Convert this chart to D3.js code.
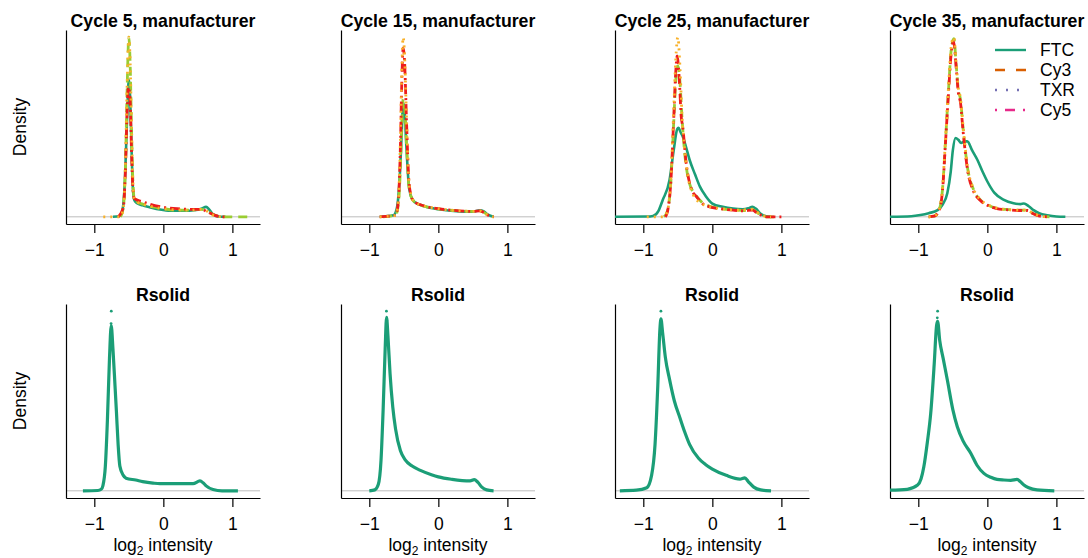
<!DOCTYPE html>
<html>
<head>
<meta charset="utf-8">
<script src="https://cdn.jsdelivr.net/npm/d3@7"></script>
<style>
body { margin: 0; background: #fff; }
text { font-family: "Liberation Sans", Arial, Helvetica, sans-serif; }
</style>
</head>
<body>
<script>
// panel titles and series names
const topTitles = ["Cycle 5, manufacturer", "Cycle 15, manufacturer", "Cycle 25, manufacturer", "Cycle 35, manufacturer"];
const bottomTitle = "Rsolid";
const seriesNames = ["FTC", "Cy3", "TXR", "Cy5"];
const xTicks = [-1, 0, 1];

// density curves, [log2 intensity, density]
const c5FTC = [[-0.73,0],[-0.64,0.02],[-0.59,0.25],[-0.555,1.3],[-0.525,3.3],[-0.5,4.55],[-0.48,3.9],[-0.46,2.2],[-0.44,0.9],[-0.42,0.55],[-0.38,0.45],[-0.3,0.38],[-0.2,0.32],[-0.05,0.24],[0.1,0.2],[0.3,0.2],[0.45,0.22],[0.55,0.27],[0.62,0.33],[0.66,0.25],[0.72,0.08],[0.8,0.01],[0.9,0]];
const c5Cy3 = [[-0.62,0],[-0.58,0.3],[-0.55,1.6],[-0.525,4.2],[-0.5,5.96],[-0.48,5.0],[-0.46,2.8],[-0.44,1.1],[-0.42,0.6],[-0.38,0.5],[-0.3,0.42],[-0.15,0.33],[0,0.27],[0.2,0.22],[0.4,0.22],[0.55,0.25],[0.62,0.22],[0.7,0.1],[0.8,0.02],[0.9,0],[1.22,0]];
const c5Cy5 = [[-0.65,0],[-0.58,0.3],[-0.55,1.5],[-0.525,3.5],[-0.505,4.3],[-0.48,3.8],[-0.46,2.1],[-0.44,0.9],[-0.42,0.6],[-0.3,0.5],[-0.2,0.42],[0,0.32],[0.2,0.27],[0.4,0.25],[0.55,0.25],[0.65,0.15],[0.75,0.05],[0.85,0],[0.92,0]];
const c5TXR = [[-0.87,0],[-0.62,0],[-0.58,0.3],[-0.55,1.7],[-0.525,4.3],[-0.5,5.96],[-0.48,5.1],[-0.46,2.9],[-0.44,1.1],[-0.42,0.6],[-0.38,0.5],[-0.3,0.42],[-0.15,0.33],[0,0.27],[0.2,0.23],[0.4,0.22],[0.55,0.25],[0.62,0.2],[0.7,0.08],[0.8,0.01],[0.9,0]];

const c15FTC = [[-0.85,0],[-0.65,0.05],[-0.6,0.3],[-0.56,1.3],[-0.53,2.8],[-0.51,3.8],[-0.49,3.5],[-0.46,2.2],[-0.43,1.1],[-0.4,0.7],[-0.35,0.5],[-0.2,0.35],[0,0.25],[0.3,0.18],[0.5,0.17],[0.6,0.22],[0.66,0.18],[0.72,0.07],[0.8,0]];
const c15Cy3 = [[-0.8,0],[-0.62,0.05],[-0.58,0.4],[-0.55,1.6],[-0.53,3.0],[-0.51,3.9],[-0.49,3.7],[-0.46,2.4],[-0.43,1.1],[-0.4,0.7],[-0.35,0.5],[-0.2,0.35],[0,0.26],[0.3,0.2],[0.5,0.18],[0.6,0.2],[0.66,0.15],[0.72,0.05],[0.8,0]];
const c15Cy5 = [[-0.85,0],[-0.62,0.05],[-0.58,0.5],[-0.55,2.3],[-0.53,4.4],[-0.51,5.6],[-0.49,5.2],[-0.46,3.1],[-0.43,1.3],[-0.4,0.75],[-0.35,0.5],[-0.2,0.36],[0,0.27],[0.3,0.2],[0.5,0.18],[0.6,0.2],[0.66,0.14],[0.72,0.05],[0.8,0]];
const c15TXR = [[-0.85,0],[-0.62,0.05],[-0.58,0.5],[-0.55,2.5],[-0.53,4.8],[-0.51,5.96],[-0.49,5.4],[-0.46,3.2],[-0.43,1.3],[-0.4,0.75],[-0.35,0.5],[-0.2,0.36],[0,0.27],[0.3,0.2],[0.5,0.18],[0.6,0.2],[0.66,0.14],[0.72,0.05],[0.8,0]];

const c25FTC = [[-1.41,0],[-0.95,0.01],[-0.86,0.03],[-0.78,0.2],[-0.72,0.55],[-0.62,1.22],[-0.56,2.2],[-0.51,2.9],[-0.49,2.95],[-0.46,2.8],[-0.43,2.67],[-0.38,2.3],[-0.33,1.89],[-0.25,1.4],[-0.18,1.0],[-0.1,0.7],[0,0.44],[0.15,0.33],[0.3,0.27],[0.44,0.25],[0.52,0.28],[0.58,0.33],[0.63,0.27],[0.7,0.1],[0.78,0.02],[0.85,0]];
const c25Cy3 = [[-0.7,0],[-0.65,0.2],[-0.6,1.2],[-0.56,3.1],[-0.53,4.5],[-0.5,5.0],[-0.47,4.5],[-0.44,3.3],[-0.4,2.1],[-0.33,1.1],[-0.25,0.75],[-0.15,0.48],[-0.04,0.35],[0.1,0.28],[0.3,0.23],[0.45,0.21],[0.58,0.24],[0.65,0.14],[0.72,0.04],[0.8,0],[0.9,0]];
const c25Cy5 = [[-0.68,0],[-0.65,0.17],[-0.6,1.2],[-0.56,3.2],[-0.53,4.8],[-0.51,5.33],[-0.48,4.6],[-0.45,3.3],[-0.43,3.0],[-0.38,1.8],[-0.3,0.9],[-0.23,0.67],[-0.15,0.45],[-0.04,0.33],[0.1,0.27],[0.3,0.22],[0.45,0.2],[0.58,0.22],[0.65,0.12],[0.72,0.04],[0.8,0],[1.0,0]];
const c25TXR = [[-0.95,0],[-0.7,0],[-0.65,0.2],[-0.6,1.3],[-0.56,3.5],[-0.53,5.2],[-0.5,5.95],[-0.47,5.0],[-0.44,3.4],[-0.4,2.2],[-0.35,1.3],[-0.28,0.75],[-0.2,0.5],[-0.1,0.38],[0,0.32],[0.2,0.25],[0.4,0.22],[0.58,0.25],[0.65,0.15],[0.75,0.03],[0.85,0]];

const c35FTC = [[-1.41,0],[-1.1,0.02],[-0.97,0.06],[-0.85,0.12],[-0.72,0.22],[-0.65,0.4],[-0.58,0.78],[-0.53,1.5],[-0.5,2.2],[-0.46,2.61],[-0.42,2.55],[-0.38,2.45],[-0.33,2.5],[-0.29,2.5],[-0.22,2.2],[-0.145,1.89],[-0.07,1.5],[0,1.17],[0.1,0.8],[0.24,0.56],[0.38,0.45],[0.48,0.42],[0.53,0.44],[0.6,0.35],[0.67,0.22],[0.75,0.12],[0.87,0.05],[1.0,0.01],[1.13,0]];
const c35Cy3 = [[-0.85,0],[-0.77,0.02],[-0.7,0.22],[-0.65,0.9],[-0.605,2.55],[-0.56,4.3],[-0.52,5.6],[-0.485,5.9],[-0.45,5.0],[-0.42,4.2],[-0.39,3.9],[-0.35,2.9],[-0.29,1.67],[-0.2,0.9],[-0.1,0.56],[0,0.4],[0.14,0.28],[0.3,0.24],[0.45,0.22],[0.58,0.22],[0.65,0.13],[0.72,0.06],[0.8,0.01],[0.9,0]];
const c35Cy5 = [[-0.85,0],[-0.77,0.02],[-0.7,0.2],[-0.65,0.85],[-0.605,2.5],[-0.56,4.2],[-0.52,5.5],[-0.49,5.8],[-0.45,4.9],[-0.42,4.1],[-0.39,3.8],[-0.35,2.8],[-0.29,1.6],[-0.2,0.85],[-0.1,0.54],[0,0.38],[0.14,0.27],[0.3,0.23],[0.45,0.21],[0.58,0.21],[0.65,0.12],[0.72,0.05],[0.8,0.01],[0.9,0]];
const c35TXR = [[-0.85,0],[-0.77,0.02],[-0.7,0.24],[-0.65,0.95],[-0.605,2.6],[-0.56,4.4],[-0.52,5.7],[-0.485,5.95],[-0.45,5.05],[-0.42,4.25],[-0.39,3.95],[-0.35,2.95],[-0.29,1.7],[-0.2,0.92],[-0.1,0.57],[0,0.41],[0.14,0.29],[0.3,0.24],[0.45,0.22],[0.58,0.22],[0.65,0.13],[0.72,0.06],[0.8,0.01],[0.9,0]];

// Rsolid density lines and the stray points above the peaks
const rs5 = [[-1.165,0],[-0.95,0.01],[-0.9,0.05],[-0.875,0.17],[-0.84,0.8],[-0.81,2.3],[-0.78,4.3],[-0.755,5.35],[-0.73,4.6],[-0.7,3.4],[-0.68,2.58],[-0.655,1.5],[-0.63,0.8],[-0.58,0.5],[-0.54,0.41],[-0.4,0.35],[-0.3,0.3],[-0.15,0.25],[-0.05,0.23],[0.2,0.23],[0.43,0.23],[0.53,0.32],[0.58,0.25],[0.62,0.16],[0.72,0.04],[0.85,0],[1.08,0]];
const rs15 = [[-1.0,0],[-0.92,0.03],[-0.87,0.2],[-0.83,1.0],[-0.8,2.6],[-0.77,4.6],[-0.75,5.6],[-0.73,5.0],[-0.7,3.8],[-0.66,2.7],[-0.62,2.0],[-0.55,1.3],[-0.48,1.0],[-0.38,0.8],[-0.26,0.66],[-0.1,0.52],[0,0.45],[0.2,0.37],[0.46,0.32],[0.52,0.36],[0.57,0.28],[0.63,0.12],[0.7,0.03],[0.8,0]];
const rs25 = [[-1.34,0],[-1.1,0.02],[-0.95,0.1],[-0.88,0.5],[-0.83,1.5],[-0.79,3.4],[-0.76,5.2],[-0.745,5.55],[-0.72,5.1],[-0.68,4.3],[-0.62,3.6],[-0.55,2.9],[-0.47,2.36],[-0.4,1.9],[-0.33,1.5],[-0.2,1.05],[-0.1,0.85],[0,0.7],[0.2,0.5],[0.4,0.38],[0.47,0.42],[0.52,0.3],[0.6,0.12],[0.7,0.03],[0.85,0]];
const rs35 = [[-1.41,0.02],[-1.16,0.05],[-1.01,0.19],[-0.96,0.4],[-0.92,0.8],[-0.87,1.6],[-0.82,2.58],[-0.77,4.2],[-0.735,5.5],[-0.72,5.63],[-0.69,5.0],[-0.64,4.4],[-0.58,3.69],[-0.5,2.7],[-0.435,2.13],[-0.35,1.65],[-0.24,1.25],[-0.15,0.85],[-0.05,0.58],[0.05,0.45],[0.14,0.38],[0.24,0.36],[0.34,0.35],[0.43,0.38],[0.48,0.3],[0.53,0.19],[0.6,0.1],[0.72,0.03],[0.97,0]];
const rsDots = [[[-0.754,5.82],[-0.757,5.42]], [[-0.752,5.8],[-0.748,5.5]], [[-0.745,5.8]], [[-0.72,5.97],[-0.725,5.75]]];

const topData = [
    [c5FTC, c5Cy3, c5Cy5, c5TXR],
    [c15FTC, c15Cy3, c15Cy5, c15TXR],
    [c25FTC, c25Cy3, c25Cy5, c25TXR],
    [c35FTC, c35Cy3, c35Cy5, c35TXR]
];
const bottomData = [rs5, rs15, rs25, rs35];

// colours actually used for the curves vs. the legend
const curveColors = ["#1b9e77", "#9acd32", "#ee1c1c", "#f8b12a"];
const curveDash = [null, "9,6", "10,4,2,4", "2,5"];
const legendColors = ["#1b9e77", "#d95f02", "#7570b3", "#e7298a"];
const legendDash = [null, "10,11", "2,9", "2,8,10,8"];

const svgWidth = 1088, svgHeight = 558;
const panelLefts = [66, 341, 615, 890];
const panelTops = [30, 304];
const pw = 194, ph = 194;
const fs = 17.5;

const svg = d3.select("body").append("svg")
    .attr("width", svgWidth)
    .attr("height", svgHeight);

function drawPanel(col, row, seriesList, title) {
    const left = panelLefts[col], top = panelTops[row];
    const x = d3.scaleLinear().domain([-1.41, 1.40]).range([left, left + pw]);
    const maxY = d3.max(seriesList.flat(), d => d[1]);
    const y = d3.scaleLinear().domain([-0.04 * maxY, 1.04 * maxY]).range([top + ph, top]);

    const g = svg.append("g");

    // zero line
    g.append("line")
        .attr("x1", left).attr("x2", left + pw)
        .attr("y1", y(0)).attr("y2", y(0))
        .attr("stroke", "#bdbdbd").attr("stroke-width", 1);

    const xAxis = g.append("g")
        .attr("transform", `translate(0,${top + ph})`)
        .call(d3.axisBottom(x).tickValues(xTicks).tickSize(9).tickSizeOuter(0).tickPadding(10.5)
            .tickFormat(d => d < 0 ? "\u2212" + Math.abs(d) : d));
    xAxis.selectAll("text").attr("font-size", fs).attr("fill", "#000")
        .style("font-family", "'Liberation Sans', Arial, sans-serif");
    xAxis.selectAll("line, path").attr("stroke", "#000").attr("stroke-width", 1.2);

    const yAxis = g.append("g")
        .attr("transform", `translate(${left},0)`)
        .call(d3.axisLeft(y).tickValues([]).tickSizeOuter(0));
    yAxis.select("path").attr("stroke", "#000").attr("stroke-width", 1.2);

    g.append("text")
        .attr("x", left + pw / 2).attr("y", top - 3.5)
        .attr("text-anchor", "middle")
        .attr("font-size", 17.7).attr("font-weight", "bold")
        .text(title);

    const line = d3.line()
        .x(d => x(d[0]))
        .y(d => y(d[1]))
        .curve(d3.curveMonotoneX);
    return { g, x, y, line };
}

topData.forEach((series, col) => {
    const p = drawPanel(col, 0, series, topTitles[col]);
    series.forEach((s, i) => {
        p.g.append("path")
            .datum(s)
            .attr("d", p.line)
            .attr("fill", "none")
            .attr("stroke", curveColors[i])
            .attr("stroke-width", i === 0 ? 2.6 : 2.8)
            .attr("stroke-dasharray", curveDash[i]);
    });
});

bottomData.forEach((s, col) => {
    const p = drawPanel(col, 1, [s, rsDots[col]], bottomTitle);
    p.g.append("path")
        .datum(s)
        .attr("d", p.line)
        .attr("fill", "none")
        .attr("stroke", "#1b9e77")
        .attr("stroke-width", 3.2);
    p.g.selectAll("circle.dot")
        .data(rsDots[col])
        .enter().append("circle")
        .attr("cx", d => p.x(d[0]))
        .attr("cy", d => p.y(d[1]))
        .attr("r", 1.4)
        .attr("fill", "#1b9e77");
    p.g.append("text")
        .attr("x", panelLefts[col] + pw / 2).attr("y", 551)
        .attr("text-anchor", "middle")
        .attr("font-size", fs)
        .html("log<tspan font-size='12' dy='4'>2</tspan><tspan dy='-4'> intensity</tspan>");
});

// y labels
[127, 401].forEach(cy => {
    svg.append("text")
        .attr("transform", `translate(26,${cy}) rotate(-90)`)
        .attr("text-anchor", "middle")
        .attr("font-size", fs)
        .text("Density");
});

// legend
const legend = svg.append("g");
seriesNames.forEach((name, i) => {
    const ly = 50 + i * 20;
    legend.append("line")
        .attr("x1", 995).attr("x2", 1026)
        .attr("y1", ly).attr("y2", ly)
        .attr("stroke", legendColors[i])
        .attr("stroke-width", 2.4)
        .attr("stroke-dasharray", legendDash[i]);
    legend.append("text")
        .attr("x", 1040).attr("y", ly + 6.3)
        .attr("font-size", fs)
        .text(name);
});
</script>
</body>
</html>
